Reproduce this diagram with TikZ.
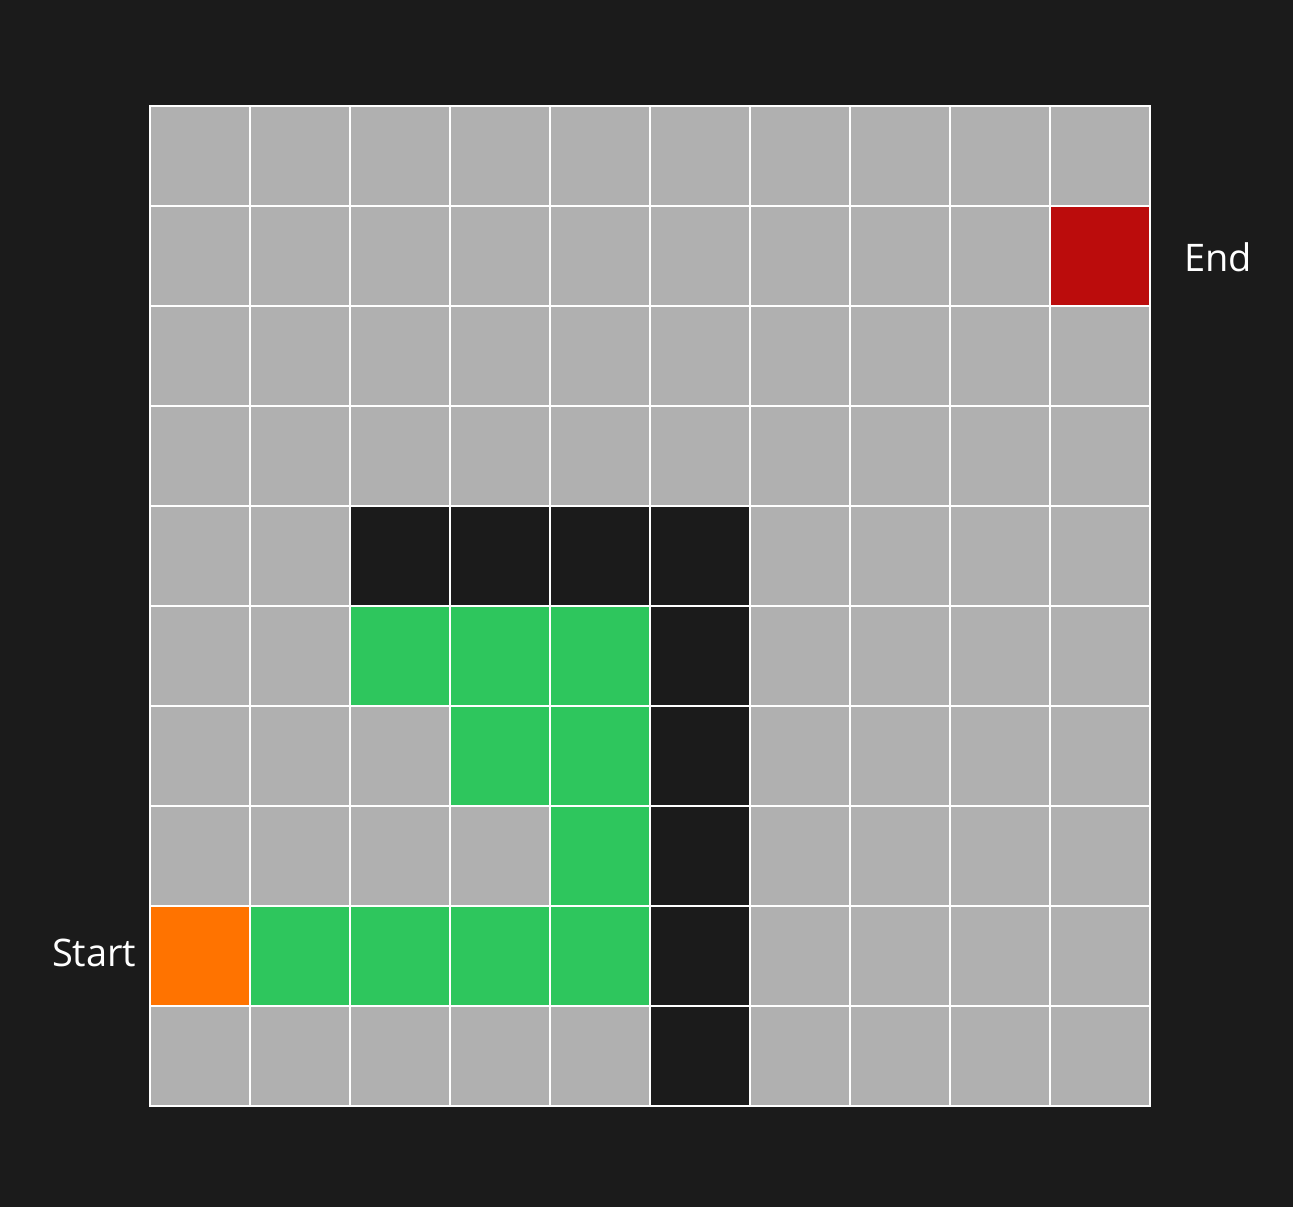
\documentclass[tikz,border=0pt]{standalone}
\usepackage{fontspec}
\setmainfont{Open Sans}
\usetikzlibrary{positioning}
\definecolor{bgdark}{HTML}{1B1B1B}
\definecolor{cellgray}{HTML}{B0B0B0}
\definecolor{pathgreen}{HTML}{2EC65D}
\definecolor{startorange}{HTML}{FF7300}
\definecolor{endred}{HTML}{BB0C0C}

\tikzset{
  cell/.style={draw=white, line width=0.75pt, fill=cellgray},
  wallcell/.style={cell, fill=bgdark},
  pathcell/.style={cell, fill=pathgreen},
  startcell/.style={cell, fill=startorange},
  endcell/.style={cell, fill=endred},
  lbl/.style={text=white, inner sep=0pt, font=\fontsize{10.8}{13}\selectfont}
}

\begin{document}
\begin{tikzpicture}[x=0.01cm, y=-0.01cm]
  % background
  \fill[bgdark] (0,0) rectangle (1293,1207);
  \useasboundingbox (0,0) rectangle (1293,1207);
  % empty grid, 10 x 10
  \foreach \r in {0,...,9}
    \foreach \c in {0,...,9}
      \draw[cell] (150+100*\c,106+100*\r) rectangle ++(100,100);
  % walls
  \foreach \c/\r in {2/4,3/4,4/4,5/4,5/5,5/6,5/7,5/8,5/9}
    \draw[wallcell] (150+100*\c,106+100*\r) rectangle ++(100,100);
  % path found
  \foreach \c/\r in {2/5,3/5,4/5,3/6,4/6,4/7,1/8,2/8,3/8,4/8}
    \draw[pathcell] (150+100*\c,106+100*\r) rectangle ++(100,100);
  % start and end
  \draw[startcell] (150,906) rectangle ++(100,100);
  \draw[endcell] (1050,206) rectangle ++(100,100);
  \node[lbl, anchor=east] (start) at (137,953) {Start};
  \node[lbl] (end) at (1218,257) {End};
\end{tikzpicture}
\end{document}
